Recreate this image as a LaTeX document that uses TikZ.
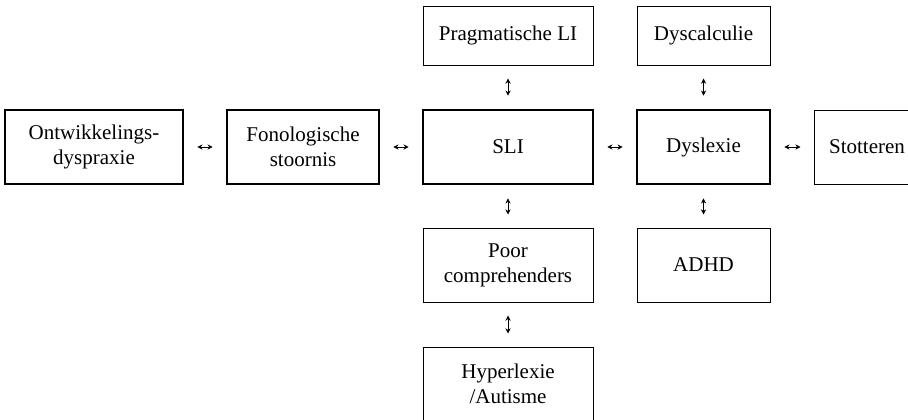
\documentclass[tikz,border=0pt]{standalone}
\usepackage{fontspec}
\setmainfont{Liberation Serif}
\usetikzlibrary{arrows.meta}

\tikzset{
  box/.style={draw, line width=0.5pt, align=center, inner sep=0pt,
    minimum height=37pt, font=\fontsize{10.5}{12.5}\selectfont},
  mainbox/.style={box, line width=1.3pt},
  link/.style={{Stealth[length=2.6pt,width=2.6pt]}-{Stealth[length=2.6pt,width=2.6pt]},
    line width=0.4pt, shorten <=6.5pt, shorten >=6.5pt}
}

\begin{document}
\begin{tikzpicture}[x=0.5pt,y=-0.5pt]
      \clip (0,0) rectangle (908,419);
      % Middle row
      \node[mainbox, minimum width=89pt] (ontw) at (94,147) {Ontwikkelings-\\dyspraxie};
      \node[mainbox, minimum width=76pt] (fono) at (303,147) {Fonologische\\stoornis};
      \node[mainbox, minimum width=85pt] (sli) at (508,147) {SLI};
      \node[mainbox, minimum width=66.5pt] (dysl) at (703.5,147) {Dyslexie};
      \node[box, minimum width=53pt] (stot) at (867,147) {Stotteren};
      % Top row
      \node[box, minimum width=85pt, minimum height=29.5pt] (prag) at (508,35.5) {Pragmatische LI};
      \node[box, minimum width=66.5pt, minimum height=29.5pt] (dysc) at (703.5,35.5) {Dyscalculie};
      % Lower rows
      \node[box, minimum width=85pt] (poor) at (508,265) {Poor\\comprehenders};
      \node[box, minimum width=66.5pt] (adhd) at (703.5,265) {ADHD};
      \node[box, minimum width=85pt] (hyper) at (508,384) {Hyperlexie\\/Autisme};
      % Arrows
      \draw[link] (ontw) -- (fono);
      \draw[link] (fono) -- (sli);
      \draw[link] (sli) -- (dysl);
      \draw[link] (dysl) -- (stot);
      \draw[link] (prag) -- (sli);
      \draw[link] (dysc) -- (dysl);
      \draw[link] (sli) -- (poor);
      \draw[link] (dysl) -- (adhd);
      \draw[link] (poor) -- (hyper);
    \end{tikzpicture}
\end{document}
